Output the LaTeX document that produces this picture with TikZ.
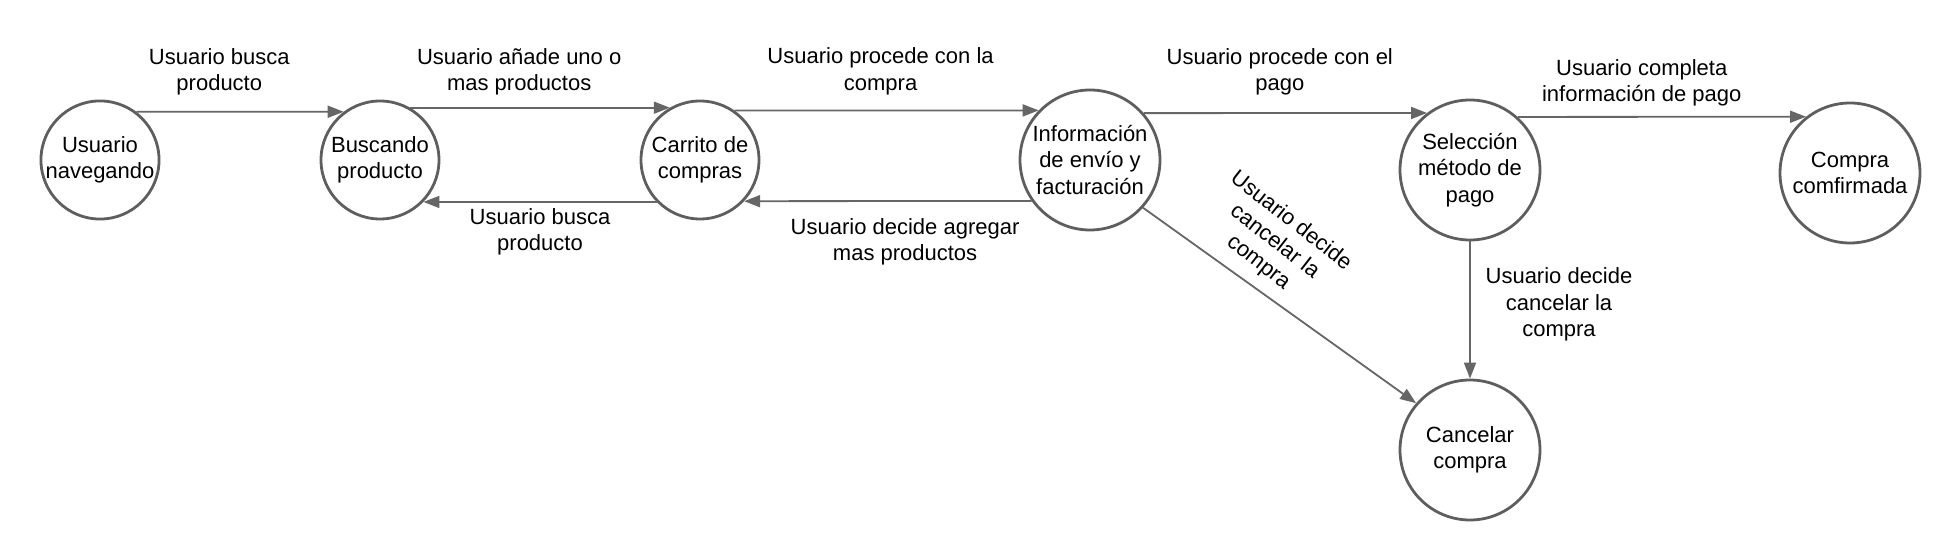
\documentclass[tikz,border=0pt]{standalone}
\usepackage{fontspec}
\setmainfont{Liberation Sans}
\usetikzlibrary{arrows.meta}
\definecolor{edgegray}{HTML}{666666}
\definecolor{ringgray}{HTML}{5E5E5E}

\begin{document}
\begin{tikzpicture}[x=0.5pt,y=-0.5pt,
        font=\fontsize{11}{13.2}\selectfont,
        state/.style={draw=ringgray,line width=1.4pt,circle,inner sep=0pt,align=center,minimum size=#1},
        state/.default=59pt,
        trans/.style={draw=edgegray,line width=0.9pt,-{Triangle[length=8pt,width=6pt]}},
        lbl/.style={align=center,inner sep=0pt}]
            \useasboundingbox (0,0) rectangle (1960,560);

            \node[state] (U) at (100,160) {Usuario\\navegando};
            \node[state] (B) at (380,160) {Buscando\\producto};
            \node[state] (C) at (700,160) {Carrito de\\compras};
            \node[state=70pt] (I) at (1090,160) {Información\\de envío y\\facturación};
            \node[state=70pt] (S) at (1470,170) {Selección\\método de\\pago};
            \node[state=70pt] (F) at (1850,173) {Compra\\comfirmada};
            \node[state=70pt] (X) at (1470,450) {Cancelar\\compra};

            \draw[trans] (U.53) -- node[lbl,pos=0.40,yshift=20pt] {Usuario busca\\producto} (B.127);
            \draw[trans] (B.60) -- node[lbl,pos=0.42,yshift=18pt] {Usuario añade uno o\\mas productos} (C.120);
            \draw[trans] (C.224) -- node[lbl,pos=0.50,yshift=-15pt] {Usuario busca\\producto} (B.-44);

            \draw[trans] (C.55) -- node[lbl,pos=0.48,yshift=19.5pt] {Usuario procede con la\\compra} (I.136);
            \draw[trans] (I.215) -- node[lbl,pos=0.44,yshift=-20.5pt] {Usuario decide agregar\\mas productos} (C.-43);

            \draw[trans] (I.41) -- node[lbl,pos=0.48,yshift=20.5pt] {Usuario procede con el\\pago} (S.127);
            \draw[trans] (S.48) -- node[lbl,pos=0.43,yshift=17pt] {Usuario completa\\información de pago} (F.128);

            \draw[trans] (I.-42) -- node[lbl,pos=0.39,xshift=12.5pt,yshift=21pt,rotate=-38] {Usuario decide\\cancelar la\\compra} (X.139);
            \draw[trans] (S.south) -- node[lbl,pos=0.46,xshift=44.5pt] {Usuario decide\\cancelar la\\compra} (X.north);
        \end{tikzpicture}
\end{document}
